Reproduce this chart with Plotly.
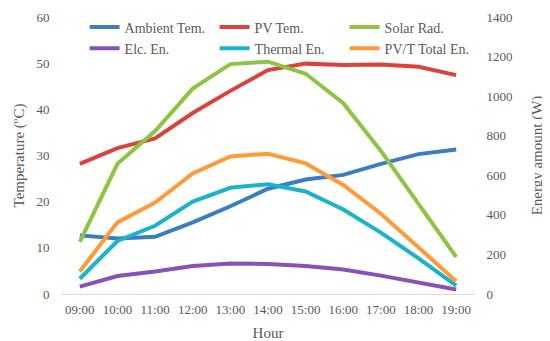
import plotly.graph_objects as go

hours = ["09:00", "10:00", "11:00", "12:00", "13:00", "14:00", "15:00", "16:00", "17:00", "18:00", "19:00"]
ambient_tem = [12.7, 12.0, 12.4, 15.5, 19.0, 22.8, 24.8, 25.8, 28.2, 30.3, 31.3]
pv_tem = [28.2, 31.6, 33.7, 39.2, 44.0, 48.5, 49.9, 49.6, 49.7, 49.2, 47.4]
solar_rad = [264, 658, 824, 1038, 1162, 1174, 1113, 964, 723, 455, 187]
elc_en = [37, 91, 114, 142, 154, 152, 142, 124, 93, 58, 23]
thermal_en = [77, 268, 345, 467, 537, 555, 518, 427, 310, 180, 42]
pvt_total_en = [114, 362, 462, 609, 695, 709, 660, 551, 406, 238, 65]

ff = "Liberation Serif, Times New Roman, serif"
gray = "#595959"
clear = "rgba(0,0,0,0)"

fig = go.Figure()
series = [
    ("Ambient Tem.", ambient_tem, "y", "#3A7DC2"),
    ("PV Tem.", pv_tem, "y", "#D9433B"),
    ("Solar Rad.", solar_rad, "y2", "#8DC441"),
    ("Elc. En.", elc_en, "y2", "#8A50B8"),
    ("Thermal En.", thermal_en, "y2", "#1AB3CB"),
    ("PV/T Total En.", pvt_total_en, "y2", "#FF9A36"),
]
for name, vals, ax, col in series:
    fig.add_trace(go.Scatter(x=hours, y=vals, name=name, yaxis=ax, mode="lines",
                             line=dict(color=col, width=4)))

tf = dict(family=ff, size=13, color=gray)
tt = dict(family=ff, size=15, color=gray)

# page body has an 8px margin; figure sized to fit the 550x341 window
fig.update_layout(
    width=542, height=333,
    margin=dict(l=53, r=75, t=3, b=47),
    paper_bgcolor="white", plot_bgcolor="white",
    font=dict(family=ff, size=13, color=gray),
    showlegend=True,
    legend=dict(orientation="h", x=0.057, y=1.02, xanchor="left", yanchor="top",
                entrywidth=85, entrywidthmode="pixels",
                font=dict(family=ff, size=14, color=gray),
                bgcolor=clear, itemwidth=30),
    xaxis=dict(type="category", range=[-0.5, 10.5], showgrid=False, showline=True,
               linecolor="#D9D9D9", linewidth=1, ticks="outside", ticklen=3, tickcolor=clear,
               tickfont=tf, automargin=False, ticklabeloverflow="allow",
               title=dict(text="Hour", font=tt, standoff=12)),
    yaxis=dict(range=[0, 60], dtick=10, showgrid=False, zeroline=False, showline=False,
               tickfont=tf, ticks="outside", ticklen=8, tickcolor=clear, automargin=False,
               ticklabeloverflow="allow",
               title=dict(text="Temperature (ºC)", font=tt, standoff=8)),
    yaxis2=dict(range=[0, 1400], dtick=200, overlaying="y", side="right", showgrid=False,
                zeroline=False, showline=False, tickfont=tf, ticks="outside", ticklen=8,
                tickcolor=clear, automargin=False, ticklabeloverflow="allow",
                title=dict(text="Energy amount (W)", font=tt, standoff=19)),
)

fig.write_html("out.html")
